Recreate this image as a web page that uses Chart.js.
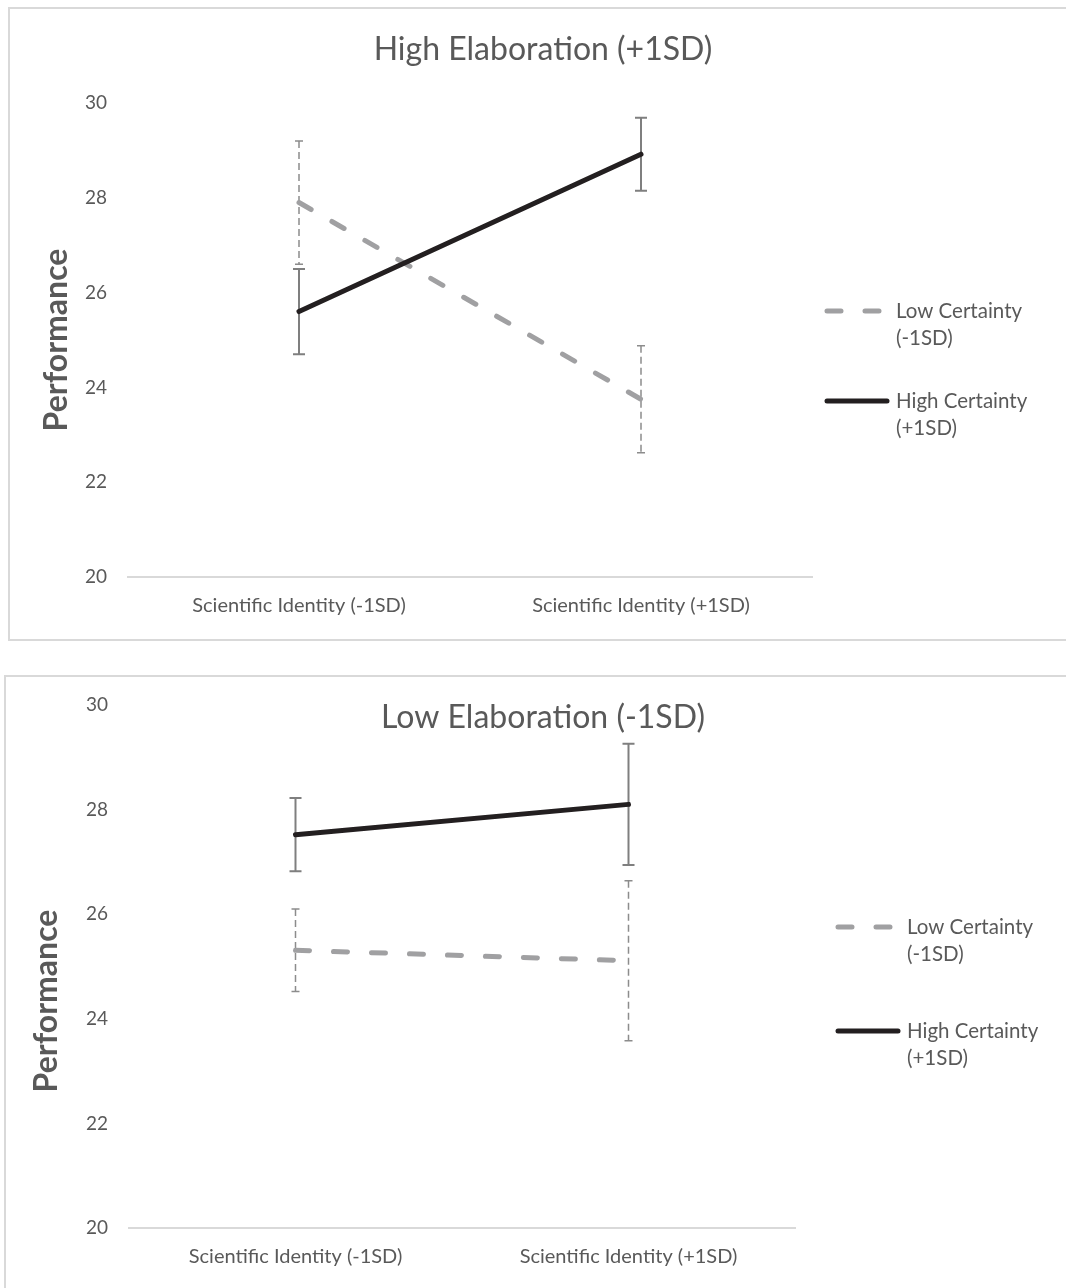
<!DOCTYPE html>
<html>
<head>
<meta charset="utf-8">
<script src="https://cdn.jsdelivr.net/npm/chart.js@4.4.1/dist/chart.umd.min.js"></script>
<style>
  html, body { margin: 0; padding: 0; background: #fff; overflow: hidden; }
  body { width: 1066px; height: 1288px; position: relative; }
  .box { position: absolute; border: 2px solid #d9d9d9; box-sizing: border-box; }
  canvas { position: absolute; left: 0; }
</style>
</head>
<body>
<div class="box" style="left:8px; top:7px; width:1080px; height:634px;"></div>
<div class="box" style="left:4px; top:675px; width:1080px; height:640px;"></div>
<canvas id="chartTop" width="1066" height="645" style="top:0"></canvas>
<canvas id="chartBottom" width="1066" height="638" style="top:650px"></canvas>
<script>
// data
const categories = ['Scientific Identity (-1SD)', 'Scientific Identity (+1SD)'];
const seriesNames = [['Low Certainty', '(-1SD)'], ['High Certainty', '(+1SD)']];
const yMin = 20, yMax = 30, yStep = 2;

// high elaboration (+1SD)
const highElabLowCert = [27.9, 23.75];
const highElabLowCertErr = [1.3, 1.13];
const highElabHighCert = [25.6, 28.92];
const highElabHighCertErr = [0.9, 0.77];

// low elaboration (-1SD)
const lowElabLowCert = [25.31, 25.11];
const lowElabLowCertErr = [0.79, 1.53];
const lowElabHighCert = [27.52, 28.1];
const lowElabHighCertErr = [0.7, 1.16];

const textColor = '#595959';
const FONT = 'Lato';

const errorBarPlugin = {
  id: 'errorBars',
  beforeDatasetsDraw(chart) {
    const ctx = chart.ctx, ys = chart.scales.y;
    chart.data.datasets.forEach((ds, i) => {
      const meta = chart.getDatasetMeta(i);
      ctx.save();
      ctx.strokeStyle = ds.errColor;
      ctx.lineWidth = ds.errWidth;
      meta.data.forEach((pt, j) => {
        const v = ds.data[j], e = ds.errors[j];
        const top = ys.getPixelForValue(v + e), bot = ys.getPixelForValue(v - e);
        ctx.setLineDash(ds.errDash);
        ctx.beginPath();
        ctx.moveTo(pt.x, top); ctx.lineTo(pt.x, bot);
        ctx.stroke();
        ctx.setLineDash([]);
        ctx.beginPath();
        ctx.moveTo(pt.x - ds.capHalf, top); ctx.lineTo(pt.x + ds.capHalf, top);
        ctx.moveTo(pt.x - ds.capHalf, bot); ctx.lineTo(pt.x + ds.capHalf, bot);
        ctx.stroke();
      });
      ctx.restore();
    });
  }
};

const textPlugin = {
  id: 'texts',
  afterDraw(chart, args, o) {
    const ctx = chart.ctx;
    ctx.save();
    ctx.fillStyle = textColor;
    ctx.textAlign = 'center';
    ctx.textBaseline = 'middle';
    ctx.font = '32px ' + FONT;
    ctx.fillText(o.title, o.titleX, o.titleY);
    ctx.translate(o.axisX, o.axisY);
    ctx.rotate(-Math.PI / 2);
    ctx.font = 'bold 32px ' + FONT;
    ctx.fillText(o.axisTitle, 0, 0);
    ctx.restore();

    chart.data.datasets.forEach((ds, i) => {
      const ly = o.legendY + i * o.legendGap;
      ctx.save();
      ctx.strokeStyle = ds.borderColor;
      ctx.lineWidth = ds.borderWidth;
      ctx.lineCap = 'round';
      ctx.setLineDash(ds.borderDash || []);
      ctx.beginPath();
      ctx.moveTo(o.legendX, ly);
      ctx.lineTo(o.legendX + o.sampleLen, ly);
      ctx.stroke();
      ctx.fillStyle = textColor;
      ctx.font = '20.5px ' + FONT;
      ctx.textAlign = 'left';
      ctx.textBaseline = 'middle';
      seriesNames[i].forEach((t, k) => ctx.fillText(t, o.legendX + o.sampleLen + 9, ly + k * 27));
      ctx.restore();
    });
  }
};

function makeChart(id, lowData, lowErr, highData, highErr, lay, texts) {
  return new Chart(document.getElementById(id), {
    type: 'line',
    data: {
      labels: categories,
      datasets: [{
        label: seriesNames[0].join(' '),
        data: lowData,
        errors: lowErr,
        borderColor: '#a0a0a2',
        borderWidth: 5,
        borderDash: [14, 24],
        borderCapStyle: 'round',
        pointRadius: 0,
        order: 1,
        errColor: '#8c8c8c', errWidth: 1.5, errDash: [7, 4], capHalf: 4
      }, {
        label: seriesNames[1].join(' '),
        data: highData,
        errors: highErr,
        borderColor: '#231f20',
        borderWidth: 5,
        borderCapStyle: 'round',
        pointRadius: 0,
        order: 0,
        errColor: '#7f7f7f', errWidth: 2, errDash: [], capHalf: 6
      }]
    },
    options: {
      responsive: false,
      animation: false,
      layout: { padding: { left: 0, top: lay.top, right: lay.right, bottom: lay.bottom } },
      plugins: {
        legend: { display: false },
        tooltip: { enabled: false },
        texts: texts
      },
      scales: {
        x: {
          offset: true,
          grid: { display: false, drawTicks: false },
          border: { display: true, color: '#d9d9d9', width: 2 },
          ticks: { color: textColor, font: { family: FONT, size: 20 }, padding: 17, maxRotation: 0 },
          afterFit(s) { s.height = 50; }
        },
        y: {
          min: yMin, max: yMax,
          grid: { display: false, drawTicks: false },
          border: { display: false },
          ticks: { stepSize: yStep, color: textColor, font: { family: FONT, size: 19 }, padding: 21 },
          afterFit(s) { s.width = lay.yWidth; }
        }
      }
    },
    plugins: [errorBarPlugin, textPlugin]
  });
}

makeChart('chartTop', highElabLowCert, highElabLowCertErr, highElabHighCert, highElabHighCertErr,
  { top: 103, right: 254, bottom: 18, yWidth: 128 },
  { title: 'High Elaboration (+1SD)', titleX: 543, titleY: 50, axisTitle: 'Performance', axisX: 57, axisY: 340,
    legendX: 827, legendY: 311, legendGap: 90, sampleLen: 60 });

makeChart('chartBottom', lowElabLowCert, lowElabLowCertErr, lowElabHighCert, lowElabHighCertErr,
  { top: 55, right: 271, bottom: 10, yWidth: 129 },
  { title: 'Low Elaboration (-1SD)', titleX: 543, titleY: 68, axisTitle: 'Performance', axisX: 47, axisY: 351,
    legendX: 838, legendY: 277, legendGap: 104, sampleLen: 60 });
</script>
</body>
</html>
